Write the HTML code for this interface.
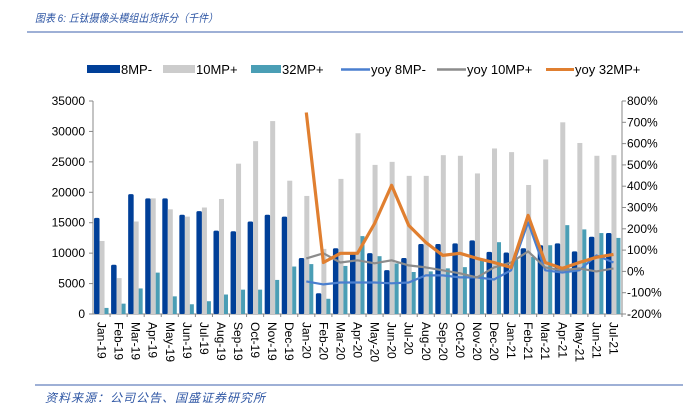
<!DOCTYPE html>
<html><head><meta charset="utf-8">
<style>
html,body{margin:0;padding:0;background:#fff;width:683px;height:415px;overflow:hidden}
svg{display:block}
text{font-family:"Liberation Sans","Noto Sans CJK SC",sans-serif}
</style></head>
<body>
<svg id="chart" width="683" height="415">
<text x="35" y="22" font-size="11" textLength="183" lengthAdjust="spacingAndGlyphs" font-style="italic" fill="#2e56a4" font-family="'Liberation Serif','Noto Serif CJK SC',serif">图表 6:  丘钛摄像头模组出货拆分（千件）</text>
<line x1="27" y1="32" x2="683" y2="32" stroke="#3c62ad" stroke-width="1"/>
<line x1="35" y1="385" x2="683" y2="385" stroke="#3c62ad" stroke-width="1"/>
<text x="45" y="402" font-size="12" textLength="220" lengthAdjust="spacing" font-style="italic" fill="#2e56a4" font-family="'Liberation Serif','Noto Serif CJK SC',serif">资料来源：公司公告、国盛证券研究所</text>
<g id="legend"></g>
<g id="plot"></g>
</svg>
<script>
const categories=["Jan-19","Feb-19","Mar-19","Apr-19","May-19","Jun-19","Jul-19","Aug-19","Sep-19","Oct-19","Nov-19","Dec-19","Jan-20","Feb-20","Mar-20","Apr-20","May-20","Jun-20","Jul-20","Aug-20","Sep-20","Oct-20","Nov-20","Dec-20","Jan-21","Feb-21","Mar-21","Apr-21","May-21","Jun-21","Jul-21"];
const mp8=[15800,8100,19700,19000,19000,16300,16900,13700,13600,15200,16300,16000,9200,3400,10800,10000,10000,7200,9200,11500,11500,11600,12100,10200,10100,10800,11300,11600,10300,12700,13300];
const mp10=[12000,5900,15200,19000,17200,16000,17500,18900,24700,28400,31700,21900,19400,10700,22200,29700,24500,25000,22700,22700,26100,26000,23100,27200,26600,21200,25400,31500,28100,26000,26100];
const mp32=[1000,1700,4200,6800,2900,1600,2100,3200,4000,4000,5600,7800,8200,2500,7900,12800,9500,8300,6900,7000,7500,7700,9000,11800,9000,9400,11300,14600,13900,13300,12500];
const yoy8=[null,null,null,null,null,null,null,null,null,null,null,null,-47,-61,-52,-52,-52,-56,-52,-19,-19,-28,-28,-38,5,230,5,-5,5,75,42];
const yoy10=[null,null,null,null,null,null,null,null,null,null,null,null,61,85,42,52,38,52,28,19,5,-9,-28,19,42,94,19,5,14,0,14];
const yoy32=[null,null,null,null,null,null,null,null,null,null,null,null,746,42,85,85,225,404,216,136,75,85,61,42,19,263,42,14,42,66,80];
const leftTicks=[0,5000,10000,15000,20000,25000,30000,35000];
const rightTicks=[-200,-100,0,100,200,300,400,500,600,700,800];

const NS="http://www.w3.org/2000/svg";
const X0=93,X1=622,Y0=314,Y1=101;
const bw=(X1-X0)/categories.length;
const yL=v=>Y0-(v/35000)*(Y0-Y1);
const yR=v=>Y0-((v+200)/1000)*(Y0-Y1);
const xC=i=>X0+bw*(i+0.5);
const plot=document.getElementById('plot');
const legend=document.getElementById('legend');
function mk(tag,attrs,parent){const e=document.createElementNS(NS,tag);for(const k in attrs)e.setAttribute(k,attrs[k]);parent.appendChild(e);return e;}

let ax=mk('line',{x1:X0,y1:Y1,x2:X0,y2:Y0,stroke:'#888'},plot);


ax=mk('line',{x1:X1,y1:Y1,x2:X1,y2:Y0,stroke:'#888'},plot);


ax=mk('line',{x1:X0,y1:Y0,x2:X1,y2:Y0,stroke:'#888'},plot);


leftTicks.forEach(t=>{
  mk('line',{x1:X0-4,x2:X0,y1:yL(t),y2:yL(t),stroke:'#888'},plot);
  const tx=mk('text',{x:X0-8,y:yL(t)+4,'text-anchor':'end','font-size':12,fill:'#000'},plot);
  tx.textContent=t;
  
  
});
rightTicks.forEach(t=>{
  mk('line',{x1:X1,x2:X1+4,y1:yR(t),y2:yR(t),stroke:'#888'},plot);
  const tx=mk('text',{x:X1+5,y:yR(t)+4,'font-size':12,fill:'#000'},plot);
  tx.textContent=t+'%';
  
  
});
categories.forEach((c,i)=>{
  const x=xC(i);
  mk('line',{x1:X0+bw*(i+1),x2:X0+bw*(i+1),y1:Y0,y2:Y0+3,stroke:'#888'},plot);
  const tx=mk('text',{x:0,y:0,'font-size':12,fill:'#000',transform:`translate(${x-4},322) rotate(90)`},plot);
  tx.textContent=c;
  
  
});
const series=[[mp8,'#003f98','bar-8mp'],[mp10,'#cccccc','bar-10mp'],[mp32,'#4a9eb5','bar-32mp']];
const w=[5.5,5,4];const off=[-7.5,-2,3];
series.forEach((s,k)=>{
  s[0].forEach((v,i)=>{
    const r=mk('rect',{x:xC(i)+off[k],y:yL(v),width:w[k],height:Y0-yL(v),fill:s[1],rx:k==0?1.5:0},plot);
    
    
  });
});
const lines=[[yoy8,'#4a7fcf',2.2,'line-yoy-8mp'],[yoy10,'#8c8c8c',2.2,'line-yoy-10mp'],[yoy32,'#e07f30',3.2,'line-yoy-32mp']];
lines.forEach(l=>{
  let d='';
  l[0].forEach((v,i)=>{if(v===null)return;d+=(d?'L':'M')+xC(i).toFixed(1)+','+yR(v).toFixed(1);});
  const p=mk('path',{d:d,fill:'none',stroke:l[1],'stroke-width':l[2],'stroke-linejoin':'round'},plot);
  
  
});
const leg=[['rect','#003f98','8MP-',87,33],['rect','#cccccc','10MP+',163,32],['rect','#4a9eb5','32MP+',251,30],['line','#4a7fcf','yoy 8MP-',341,29],['line','#8c8c8c','yoy 10MP+',437,29],['line','#e07f30','yoy 32MP+',546,28]];
leg.forEach(e=>{
  const g=mk('g',{},legend);
  
  
  if(e[0]=='rect')mk('rect',{x:e[3],y:65,width:e[4],height:8,fill:e[1]},g);
  else mk('line',{x1:e[3],x2:e[3]+e[4],y1:69.5,y2:69.5,stroke:e[1],'stroke-width':e[2]=='yoy 32MP+'?3:2.5},g);
  const t=mk('text',{x:e[3]+e[4]+1,y:74,'font-size':13,fill:'#000'},g);
  t.textContent=e[2];
});
</script>
</body></html>
